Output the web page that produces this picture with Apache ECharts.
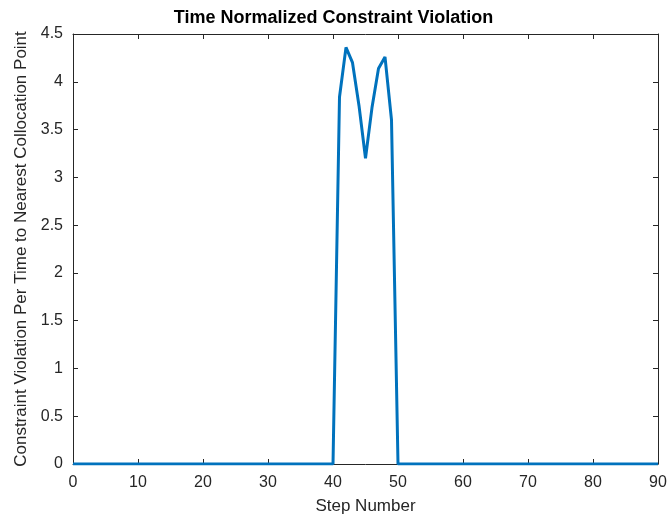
<!DOCTYPE html>
<html>
<head>
<meta charset="utf-8">
<script src="https://cdn.jsdelivr.net/npm/echarts@6/dist/echarts.min.js"></script>
<style>
  html, body { margin: 0; padding: 0; background: #fff; }
  #chart { width: 667px; height: 516px; }
</style>
</head>
<body>
<div id="chart"></div>
<script>
// step numbers 0..90 and the violation at each step
var steps = [
  0, 1, 2, 3, 4, 5, 6, 7, 8, 9, 10, 11, 12, 13, 14, 15, 16, 17, 18, 19,
  20, 21, 22, 23, 24, 25, 26, 27, 28, 29, 30, 31, 32, 33, 34, 35, 36, 37, 38, 39,
  40, 41, 42, 43, 44, 45, 46, 47, 48, 49, 50, 51, 52, 53, 54, 55, 56, 57, 58, 59,
  60, 61, 62, 63, 64, 65, 66, 67, 68, 69, 70, 71, 72, 73, 74, 75, 76, 77, 78, 79,
  80, 81, 82, 83, 84, 85, 86, 87, 88, 89, 90
];
var violation = [
  0, 0, 0, 0, 0, 0, 0, 0, 0, 0, 0, 0, 0, 0, 0, 0, 0, 0, 0, 0,
  0, 0, 0, 0, 0, 0, 0, 0, 0, 0, 0, 0, 0, 0, 0, 0, 0, 0, 0, 0,
  0, 3.84, 4.36, 4.2, 3.75, 3.2, 3.73, 4.14, 4.26, 3.6, 0, 0, 0, 0, 0, 0, 0, 0, 0, 0,
  0, 0, 0, 0, 0, 0, 0, 0, 0, 0, 0, 0, 0, 0, 0, 0, 0, 0, 0, 0,
  0, 0, 0, 0, 0, 0, 0, 0, 0, 0, 0
];

var axisColor = '#262626';
var font = 'Liberation Sans, Arial, Helvetica, sans-serif';

var chart = echarts.init(document.getElementById('chart'));

var lineData = steps.map(function (s, i) { return [s, violation[i]]; });

// box axes: same scale, ticks pointing in, no labels
function boxAxis(pos, max, interval) {
  return {
    type: 'value',
    position: pos,
    min: 0, max: max, interval: interval,
    axisLine: { show: true, onZero: false, lineStyle: { color: axisColor, width: 1 } },
    axisTick: { show: true, inside: true, length: 5, lineStyle: { color: axisColor } },
    axisLabel: { show: false },
    splitLine: { show: false }
  };
}

var option = {
  animation: false,
  textStyle: { fontFamily: font },
  title: {
    text: 'Time Normalized Constraint Violation',
    left: 'center',
    top: 4,
    textStyle: { fontSize: 18, fontWeight: 'bold', color: '#000', fontFamily: font }
  },
  grid: { left: 73, right: 9, top: 34, bottom: 52, outerBoundsMode: 'none', containLabel: false },
  xAxis: [{
    type: 'value',
    position: 'bottom',
    min: 0, max: 90, interval: 10,
    name: 'Step Number',
    nameLocation: 'middle',
    nameGap: 34,
    nameTextStyle: { fontSize: 17, color: axisColor },
    axisLine: { onZero: false, lineStyle: { color: axisColor, width: 1 } },
    axisTick: { inside: true, length: 5, lineStyle: { color: axisColor } },
    axisLabel: { fontSize: 16, color: axisColor, margin: 11 },
    splitLine: { show: false }
  }, boxAxis('top', 90, 10)],
  yAxis: [{
    type: 'value',
    position: 'left',
    min: 0, max: 4.5, interval: 0.5,
    name: 'Constraint Violation Per Time to Nearest Collocation Point',
    nameLocation: 'middle',
    nameGap: 39,
    nameTextStyle: { fontSize: 17, color: axisColor },
    axisLine: { show: true, onZero: false, lineStyle: { color: axisColor, width: 1 } },
    axisTick: { show: true, inside: true, length: 5, lineStyle: { color: axisColor } },
    axisLabel: { fontSize: 16, color: axisColor, margin: 10 },
    splitLine: { show: false }
  }, boxAxis('right', 4.5, 0.5)],
  series: [{
    type: 'line',
    xAxisIndex: 0,
    yAxisIndex: 0,
    data: lineData,
    showSymbol: false,
    lineStyle: { color: '#0072BD', width: 3 },
    itemStyle: { color: '#0072BD' }
  }]
};

chart.setOption(option);
</script>
</body>
</html>
